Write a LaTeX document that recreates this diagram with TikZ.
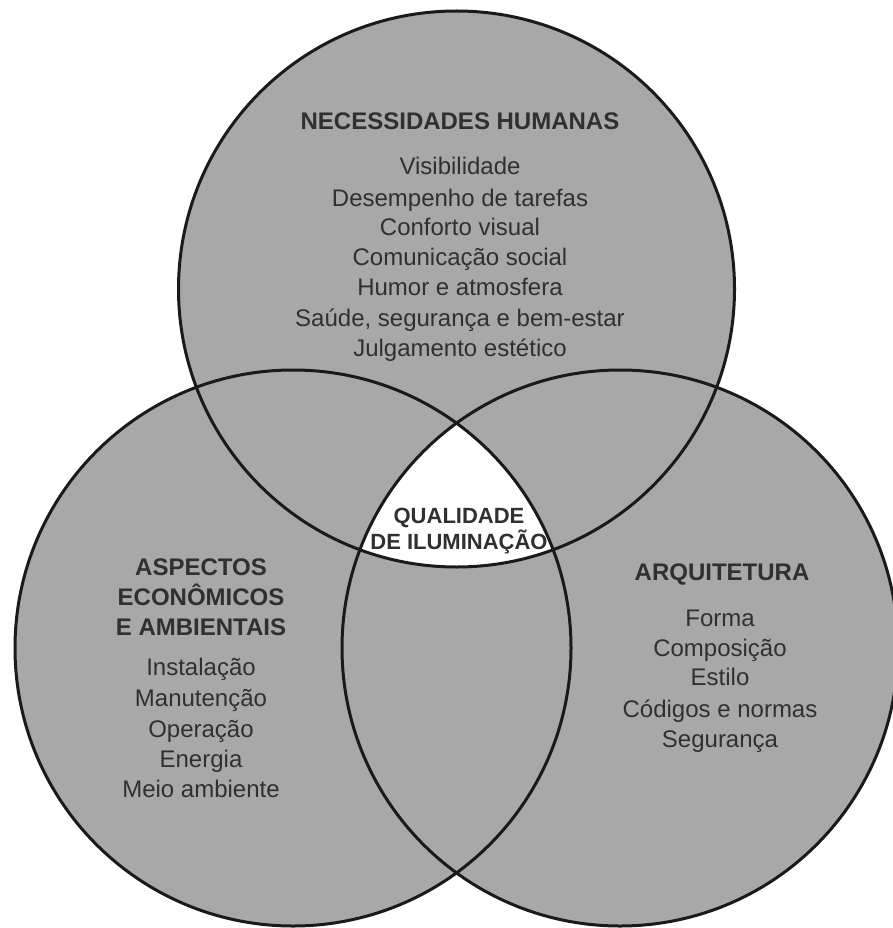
\documentclass[tikz,border=0pt]{standalone}
\usepackage{fontspec}
\setmainfont{Liberation Sans}
\definecolor{vennfill}{RGB}{168,168,168}
\definecolor{vennline}{RGB}{26,26,26}
\definecolor{txt}{RGB}{48,48,48}
\begin{document}
\begin{tikzpicture}[x=1pt,y=-1pt,
  ring/.style={draw=vennline,line width=3pt},
  ttl/.style={anchor=base,inner sep=0pt,text=txt,font=\fontsize{24}{28}\selectfont\bfseries},
  itm/.style={anchor=base,inner sep=0pt,text=txt,font=\fontsize{24}{28}\selectfont},
  ctr/.style={anchor=base,inner sep=0pt,text=txt,font=\fontsize{22}{26}\selectfont\bfseries}]
\useasboundingbox (0,0) rectangle (892,928);
\coordinate (ct) at (456.5,289);
\coordinate (cl) at (293,648);
\coordinate (cr) at (620,648);
\def\R{278pt}
% fills
\fill[vennfill] (ct) circle (\R);
\fill[vennfill] (cl) circle (\R);
\fill[vennfill] (cr) circle (\R);
\begin{scope}
  \clip (ct) circle (\R);
  \clip (cl) circle (\R);
  \fill[white] (cr) circle (\R);
\end{scope}
% outlines
\draw[ring] (ct) circle (\R);
\draw[ring] (cl) circle (\R);
\draw[ring] (cr) circle (\R);
% top circle
\node[ttl] (t0) at (460,130) {NECESSIDADES HUMANAS};
\node[itm] (t1) at (460,175) {Visibilidade};
\node[itm] (t2) at (460,206) {Desempenho de tarefas};
\node[itm] (t3) at (460,235) {Conforto visual};
\node[itm] (t4) at (460,265) {Comunicação social};
\node[itm] (t5) at (460,295) {Humor e atmosfera};
\node[itm] (t6) at (460,326) {Saúde, segurança e bem-estar};
\node[itm] (t7) at (460,356) {Julgamento estético};
% center
\node[ctr] (q1) at (459,523) {QUALIDADE};
\node[ctr] (q2) at (459,549) {DE ILUMINAÇÃO};
% left circle
\node[ttl] (l0) at (201,575) {ASPECTOS};
\node[ttl] (l1) at (201,605) {ECONÔMICOS};
\node[ttl] (l2) at (201,635) {E AMBIENTAIS};
\node[itm] (l3) at (201,675) {Instalação};
\node[itm] (l4) at (201,706) {Manutenção};
\node[itm] (l5) at (201,737) {Operação};
\node[itm] (l6) at (201,767) {Energia};
\node[itm] (l7) at (201,797) {Meio ambiente};
% right circle
\node[ttl] (r0) at (722,580) {ARQUITETURA};
\node[itm] (r1) at (720,626) {Forma};
\node[itm] (r2) at (720,656) {Composição};
\node[itm] (r3) at (720,685) {Estilo};
\node[itm] (r4) at (720,717) {Códigos e normas};
\node[itm] (r5) at (720,747) {Segurança};
\end{tikzpicture}
\end{document}
